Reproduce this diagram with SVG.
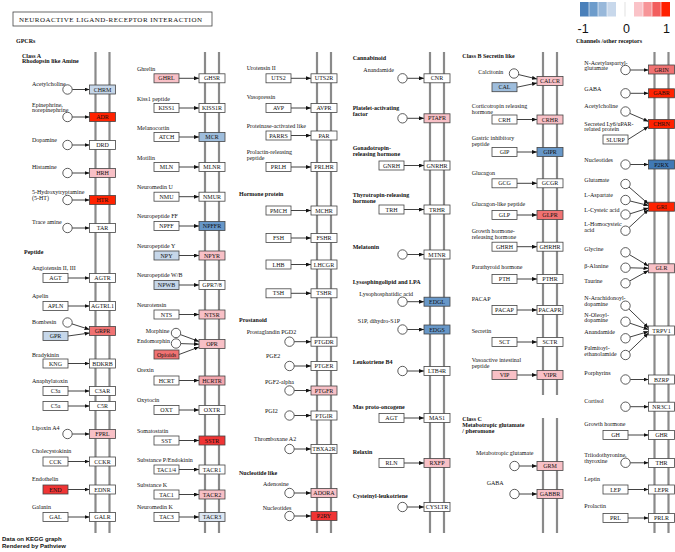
<svg xmlns="http://www.w3.org/2000/svg" width="675" height="552" viewBox="0 0 675 552">
<defs>
<marker id="ah" markerUnits="userSpaceOnUse" markerWidth="5" markerHeight="4" viewBox="0 0 5 4" refX="5" refY="2" orient="auto"><path d="M0,0 L5,2 L0,4 z" fill="#111"/></marker>
</defs>
<style>
text{font-family:"Liberation Serif","Times New Roman",serif;font-size:6px;fill:#111}
.b{font-weight:bold}
.bt{text-anchor:middle}
rect.n{stroke:#444;stroke-width:0.8;fill:#fff}
circle.c{fill:#fff;stroke:#333;stroke-width:0.8}
.m{stroke:#8a8a8a;stroke-width:2.2}
#connectors path{fill:none;stroke:#111;stroke-width:0.8;marker-end:url(#ah)}
.b0{fill:#DDE7F3 !important}.b1{fill:#C6D7EA !important}.b2{fill:#9EBDDC !important}.b3{fill:#6797C8 !important}.b4{fill:#4079B5 !important}
.p1{fill:#F8C0C6 !important}.p2{fill:#F4A6AD !important}.p3{fill:#F07272 !important}.p4{fill:#F03434 !important}.p5{fill:#FF2200 !important}
.sans{font-family:"Liberation Sans",Arial,sans-serif}
</style>
<rect width="675" height="552" fill="#fff"/>

<!-- title & legend -->
<g id="title"><rect class="n" x="13" y="12" width="199" height="14"/><text x="19" y="22.3" style="font-size:7px" textLength="183" lengthAdjust="spacing">NEUROACTIVE LIGAND-RECEPTOR INTERACTION</text></g>
<g id="legend">
<rect x="580" y="2" width="9" height="14.5" fill="#4A80BA"/>
<rect x="589" y="2" width="9" height="14.5" fill="#6D9CCB"/>
<rect x="598" y="2" width="9" height="14.5" fill="#98B8DA"/>
<rect x="607" y="2" width="9" height="14.5" fill="#C8D8EB"/>
<rect x="634" y="2" width="9" height="14.5" fill="#FAC3C8"/>
<rect x="643" y="2" width="9" height="14.5" fill="#F79598"/>
<rect x="652" y="2" width="9" height="14.5" fill="#F25E5E"/>
<rect x="661" y="2" width="9" height="14.5" fill="#FF2000"/>
<path d="M589,2V16.5M598,2V16.5M607,2V16.5M643,2V16.5M652,2V16.5M661,2V16.5" stroke="#fff" stroke-width="0.6"/>
<path d="M625,2V16.5" stroke="#ccc" stroke-width="0.6"/>
<text class="sans" x="577.5" y="33.3" style="font-size:12.5px">-1</text>
<text class="sans" x="623" y="33.3" style="font-size:12.5px">0</text>
<text class="sans" x="663" y="33.3" style="font-size:12.5px">1</text>
</g>
<text class="b" x="576" y="43">Channels /other receptors</text>
<text class="b" x="16" y="43">GPCRs</text>
<text class="b" x="22" y="57.5">Class A</text>
<text class="b" x="22" y="62.5">Rhodopsin like Amine</text>
<text class="b" x="24" y="253.5">Peptide</text>
<text class="b" x="239" y="195.5">Hormone protein</text>
<text class="b" x="239" y="321.5">Prostanoid</text>
<text class="b" x="239" y="474.5">Nucleotide like</text>
<text class="b" x="462.3" y="57.5">Class B Secretin like</text>
<text class="b" x="462.3" y="420.5">Class C</text>
<text class="b" x="462.3" y="426.5">Metabotropic glutamate</text>
<text class="b" x="462.3" y="432.5">/ pheromone</text>
<text class="b sans" x="2" y="541">Data on KEGG graph</text>
<text class="b sans" x="2" y="548.3">Rendered by Pathview</text>

<!-- membranes -->
<g id="membranes">
<path class="m" d="M95.5,52V533M109.5,52V533M205,52V533M219,52V533M317,52V533M331,52V533M430,52V533M444,52V533M543,52V395M557,52V395M543,418V533M557,418V533M654.5,52V533M668.5,52V533"/>
</g>

<!-- connectors -->
<g id="connectors">
<path d="M72.2,89.5H89.5"/><path d="M72.2,117H89.5"/><path d="M72.2,145H89.5"/><path d="M72.2,173H89.5"/><path d="M72.2,200H89.5"/><path d="M72.2,228H89.5"/>
<path d="M68,278H89.5"/><path d="M68,306H89.5"/><path d="M72,323.9L89.5,329.5"/><path d="M68,336L89.5,333"/><path d="M68,363.5H89.5"/><path d="M68,391H89.5"/><path d="M68,406H89.5"/><path d="M72.2,434H89.5"/><path d="M68,461.5H89.5"/><path d="M68,489.5H89.5"/><path d="M68,517H89.5"/>
<path d="M179,78.3H199"/><path d="M179,108H199"/><path d="M179,137H199"/><path d="M179,167H199"/><path d="M179,196.7H199"/><path d="M179,226H199"/><path d="M179,255.5H199"/><path d="M179,285H199"/><path d="M179,314.5H199"/>
<path d="M180.4,334.6L199,341.5"/><path d="M180.7,343.6L199,344.2"/><path d="M179,354.5L199,347"/>
<path d="M179,380.5H199"/><path d="M179,410H199"/><path d="M179,440.5H199"/><path d="M179,469.5H199"/><path d="M179,494.5H199"/><path d="M179,517H199"/>
<path d="M291,78.3H311"/><path d="M291,108H311"/><path d="M291,135.5H311"/><path d="M291,167H311"/><path d="M291,210.5H311"/><path d="M291,238H311"/><path d="M291,264.5H311"/><path d="M291,293.3H311"/>
<path d="M294.2,341.7H311"/><path d="M294.2,366H311"/><path d="M294.2,390.5H311"/><path d="M294.2,415.5H311"/><path d="M294.2,449H311"/><path d="M294.2,493H311"/><path d="M294.2,516H311"/>
<path d="M407.2,78.3H424"/><path d="M407.2,118.3H424"/><path d="M404,165.5H424"/><path d="M404,209.5H424"/><path d="M407.2,254.5H424"/><path d="M407.2,301.7H424"/><path d="M407.2,329.5H424"/><path d="M407.2,371H424"/><path d="M404,418H424"/><path d="M404,463H424"/><path d="M407.2,507H424"/>
<path d="M518.6,74.6L537,79"/><path d="M517,87.2L537,83"/>
<path d="M517,119.5H537"/><path d="M517,152H537"/><path d="M517,183.3H537"/><path d="M517,215H537"/><path d="M517,246.7H537"/><path d="M517,279H537"/><path d="M517,310H537"/><path d="M517,342H537"/><path d="M517,375H537"/>
<path d="M519.2,466H537"/><path d="M519.2,494H537"/>
<path d="M630.2,70H648.5"/><path d="M630.2,93.3H648.5"/><path d="M629.8,113.4L648.5,121.5"/><path d="M628,139.5L648.5,126.5"/><path d="M630.2,164.5H648.5"/>
<path d="M629,187L648.5,204"/><path d="M630.1,201L648.5,205.5"/><path d="M630.1,213.8L648.5,208"/><path d="M629,227.6L648.5,209.5"/>
<path d="M629.5,254.7L648.5,266"/><path d="M630.2,267.8L648.5,268.3"/><path d="M629.6,281L648.5,270.5"/>
<path d="M628.9,309L648.5,328"/><path d="M630,323.2L648.5,329.5"/><path d="M630,337L648.5,331.5"/><path d="M628.9,351.8L648.5,333"/>
<path d="M630.2,379.5H648.5"/><path d="M630.2,406.7H648.5"/><path d="M628,435H648.5"/><path d="M630.2,462.8H648.5"/><path d="M628,489.5H648.5"/><path d="M628,518H648.5"/>
</g>

<!-- column 1 receptors -->
<g id="CHRM"><rect class="n b1" x="89.5" y="85" width="26" height="9"/><text class="bt" x="102.5" y="91.6">CHRM</text></g>
<g id="ADR"><rect class="n p5" x="89.5" y="112.5" width="26" height="9"/><text class="bt" x="102.5" y="119.1">ADR</text></g>
<g id="DRD"><rect class="n" x="89.5" y="140.5" width="26" height="9"/><text class="bt" x="102.5" y="147.1">DRD</text></g>
<g id="HRH"><rect class="n p1" x="89.5" y="168.5" width="26" height="9"/><text class="bt" x="102.5" y="175.1">HRH</text></g>
<g id="HTR"><rect class="n p5" x="89.5" y="195.5" width="26" height="9"/><text class="bt" x="102.5" y="202.1">HTR</text></g>
<g id="TAR"><rect class="n" x="89.5" y="223.5" width="26" height="9"/><text class="bt" x="102.5" y="230.1">TAR</text></g>
<g id="AGTR"><rect class="n" x="89.5" y="273.5" width="26" height="9"/><text class="bt" x="102.5" y="280.1">AGTR</text></g>
<g id="AGTRL1"><rect class="n" x="89.5" y="301.5" width="26" height="9"/><text class="bt" x="102.5" y="308.1">AGTRL1</text></g>
<g id="GRPR"><rect class="n p3" x="89.5" y="326.5" width="26" height="9"/><text class="bt" x="102.5" y="333.1">GRPR</text></g>
<g id="BDKRB"><rect class="n" x="89.5" y="359" width="26" height="9"/><text class="bt" x="102.5" y="365.6">BDKRB</text></g>
<g id="C3AR"><rect class="n" x="89.5" y="386.5" width="26" height="9"/><text class="bt" x="102.5" y="393.1">C3AR</text></g>
<g id="C5R"><rect class="n" x="89.5" y="401.5" width="26" height="9"/><text class="bt" x="102.5" y="408.1">C5R</text></g>
<g id="FPRL"><rect class="n p1" x="89.5" y="429.5" width="26" height="9"/><text class="bt" x="102.5" y="436.1">FPRL</text></g>
<g id="CCKR"><rect class="n" x="89.5" y="457" width="26" height="9"/><text class="bt" x="102.5" y="463.6">CCKR</text></g>
<g id="EDNR"><rect class="n" x="89.5" y="485" width="26" height="9"/><text class="bt" x="102.5" y="491.6">EDNR</text></g>
<g id="GALR"><rect class="n" x="89.5" y="512.5" width="26" height="9"/><text class="bt" x="102.5" y="519.1">GALR</text></g>

<!-- column 1 ligands -->
<g id="Acetylcholine1"><text x="32" y="85.5">Acetylcholine</text><circle class="c" cx="67.5" cy="89.5" r="4.7"/></g>
<g id="Epinephrine"><text x="32" y="106.5">Epinephrine,</text><text x="32" y="112">norepinephrine</text><circle class="c" cx="67.5" cy="117" r="4.7"/></g>
<g id="Dopamine"><text x="32" y="141.5">Dopamine</text><circle class="c" cx="67.5" cy="145" r="4.7"/></g>
<g id="Histamine"><text x="32" y="168.5">Histamine</text><circle class="c" cx="67.5" cy="173" r="4.7"/></g>
<g id="HT5"><text x="32" y="194">5-Hydroxytryptamine</text><text x="32" y="200">(5-HT)</text><circle class="c" cx="67.5" cy="200" r="4.7"/></g>
<g id="Traceamine"><text x="32" y="224">Trace amine</text><circle class="c" cx="67.5" cy="228" r="4.7"/></g>
<g id="AGT1"><text x="32" y="269.5">Angiotensin II, III</text><rect class="n" x="43" y="273.5" width="25" height="9"/><text class="bt" x="55.5" y="280.1">AGT</text></g>
<g id="APLN"><text x="32" y="297.5">Apelin</text><rect class="n" x="43" y="301.5" width="25" height="9"/><text class="bt" x="55.5" y="308.1">APLN</text></g>
<g id="Bombesin"><text x="32" y="324">Bombesin</text><circle class="c" cx="67.5" cy="322.5" r="4.7"/></g>
<g id="GPR"><rect class="n b1" x="43" y="331.5" width="25" height="9"/><text class="bt" x="55.5" y="338.1">GPR</text></g>
<g id="KNG"><text x="32" y="356.5">Bradykinin</text><rect class="n" x="43" y="359" width="25" height="9"/><text class="bt" x="55.5" y="365.6">KNG</text></g>
<g id="C3a"><text x="32" y="382.5">Anaphylatoxin</text><rect class="n" x="43" y="386.5" width="25" height="9"/><text class="bt" x="55.5" y="393.1">C3a</text></g>
<g id="C5a"><rect class="n" x="43" y="401.5" width="25" height="9"/><text class="bt" x="55.5" y="408.1">C5a</text></g>
<g id="LipoxinA4"><text x="32" y="429.5">Lipoxin A4</text><circle class="c" cx="67.5" cy="434" r="4.7"/></g>
<g id="CCK"><text x="32" y="452.5">Cholecystokinin</text><rect class="n" x="43" y="457" width="25" height="9"/><text class="bt" x="55.5" y="463.6">CCK</text></g>
<g id="END"><text x="32" y="480.5">Endothelin</text><rect class="n p4" x="43" y="485" width="25" height="9"/><text class="bt" x="55.5" y="491.6">END</text></g>
<g id="GAL"><text x="32" y="508.5">Galanin</text><rect class="n" x="43" y="512.5" width="25" height="9"/><text class="bt" x="55.5" y="519.1">GAL</text></g>

<!-- column 2 -->
<g id="GHSR"><rect class="n" x="199" y="73.8" width="26" height="9"/><text class="bt" x="212" y="80.4">GHSR</text></g>
<g id="KISS1R"><rect class="n" x="199" y="103.5" width="26" height="9"/><text class="bt" x="212" y="110.1">KISS1R</text></g>
<g id="MCR"><rect class="n b2" x="199" y="132.5" width="26" height="9"/><text class="bt" x="212" y="139.1">MCR</text></g>
<g id="MLNR"><rect class="n" x="199" y="162.5" width="26" height="9"/><text class="bt" x="212" y="169.1">MLNR</text></g>
<g id="NMUR"><rect class="n" x="199" y="192.2" width="26" height="9"/><text class="bt" x="212" y="198.8">NMUR</text></g>
<g id="NPFFR"><rect class="n b3" x="199" y="221.5" width="26" height="9"/><text class="bt" x="212" y="228.1">NPFFR</text></g>
<g id="NPYR"><rect class="n p1" x="199" y="251" width="26" height="9"/><text class="bt" x="212" y="257.6">NPYR</text></g>
<g id="GPR78"><rect class="n" x="199" y="280.5" width="26" height="9"/><text class="bt" x="212" y="287.1">GPR7/8</text></g>
<g id="NTSR"><rect class="n p1" x="199" y="310" width="26" height="9"/><text class="bt" x="212" y="316.6">NTSR</text></g>
<g id="OPR"><rect class="n p1" x="199" y="339.5" width="26" height="9"/><text class="bt" x="212" y="346.1">OPR</text></g>
<g id="HCRTR"><rect class="n p2" x="199" y="376" width="26" height="9"/><text class="bt" x="212" y="382.6">HCRTR</text></g>
<g id="OXTR"><rect class="n" x="199" y="405.5" width="26" height="9"/><text class="bt" x="212" y="412.1">OXTR</text></g>
<g id="SSTR"><rect class="n p4" x="199" y="436" width="26" height="9"/><text class="bt" x="212" y="442.6">SSTR</text></g>
<g id="TACR1"><rect class="n" x="199" y="465" width="26" height="9"/><text class="bt" x="212" y="471.6">TACR1</text></g>
<g id="TACR2"><rect class="n p1" x="199" y="490" width="26" height="9"/><text class="bt" x="212" y="496.6">TACR2</text></g>
<g id="TACR3"><rect class="n b0" x="199" y="512.5" width="26" height="9"/><text class="bt" x="212" y="519.1">TACR3</text></g>

<g id="GHRL"><text x="137" y="71">Ghrelin</text><rect class="n p1" x="154" y="73.8" width="25" height="9"/><text class="bt" x="166.5" y="80.4">GHRL</text></g>
<g id="KISS1"><text x="137" y="100.5">Kiss1 peptide</text><rect class="n" x="154" y="103.5" width="25" height="9"/><text class="bt" x="166.5" y="110.1">KISS1</text></g>
<g id="ATCH"><text x="137" y="129.5">Melanocortin</text><rect class="n" x="154" y="132.5" width="25" height="9"/><text class="bt" x="166.5" y="139.1">ATCH</text></g>
<g id="MLN"><text x="137" y="159.5">Motilin</text><rect class="n" x="154" y="162.5" width="25" height="9"/><text class="bt" x="166.5" y="169.1">MLN</text></g>
<g id="NMU"><text x="137" y="189">Neuromedin U</text><rect class="n" x="154" y="192.2" width="25" height="9"/><text class="bt" x="166.5" y="198.8">NMU</text></g>
<g id="NPFF"><text x="137" y="218">Neuropeptide FF</text><rect class="n" x="154" y="221.5" width="25" height="9"/><text class="bt" x="166.5" y="228.1">NPFF</text></g>
<g id="NPY"><text x="137" y="247.5">Neuropeptide Y</text><rect class="n b1" x="154" y="251" width="25" height="9"/><text class="bt" x="166.5" y="257.6">NPY</text></g>
<g id="NPWB"><text x="137" y="277">Neuropeptide W/B</text><rect class="n b1" x="154" y="280.5" width="25" height="9"/><text class="bt" x="166.5" y="287.1">NPWB</text></g>
<g id="NTS"><text x="137" y="306.5">Neurotensin</text><rect class="n" x="154" y="310" width="25" height="9"/><text class="bt" x="166.5" y="316.6">NTS</text></g>
<g id="Morphine"><text x="145.7" y="332.5">Morphine</text><circle class="c" cx="176" cy="333" r="4.7"/></g>
<g id="Endomorphin"><text x="137" y="342.5">Endomorphin</text><circle class="c" cx="176" cy="343.5" r="4.7"/></g>
<g id="Opioids"><rect class="n p3" x="154" y="350" width="25" height="9"/><text class="bt" x="166.5" y="356.6">Opioids</text></g>
<g id="HCRT"><text x="137" y="371.5">Orexin</text><rect class="n" x="154" y="376" width="25" height="9"/><text class="bt" x="166.5" y="382.6">HCRT</text></g>
<g id="OXT"><text x="137" y="401.5">Oxytocin</text><rect class="n" x="154" y="405.5" width="25" height="9"/><text class="bt" x="166.5" y="412.1">OXT</text></g>
<g id="SST"><text x="137" y="432.5">Somatostatin</text><rect class="n" x="154" y="436" width="25" height="9"/><text class="bt" x="166.5" y="442.6">SST</text></g>
<g id="TAC14"><text x="137" y="461.5">Substance P/Endokinin</text><rect class="n" x="154" y="465" width="25" height="9"/><text class="bt" x="166.5" y="471.6">TAC1/4</text></g>
<g id="TAC1"><text x="137" y="486.5">Substance K</text><rect class="n" x="154" y="490" width="25" height="9"/><text class="bt" x="166.5" y="496.6">TAC1</text></g>
<g id="TAC3"><text x="137" y="508.5">Neuromedin K</text><rect class="n" x="154" y="512.5" width="25" height="9"/><text class="bt" x="166.5" y="519.1">TAC3</text></g>

<!-- column 3 -->
<g id="UTS2R"><rect class="n" x="311" y="73.8" width="26" height="9"/><text class="bt" x="324" y="80.4">UTS2R</text></g>
<g id="AVPR"><rect class="n" x="311" y="103.5" width="26" height="9"/><text class="bt" x="324" y="110.1">AVPR</text></g>
<g id="PAR"><rect class="n" x="311" y="131" width="26" height="9"/><text class="bt" x="324" y="137.6">PAR</text></g>
<g id="PRLHR"><rect class="n" x="311" y="162.5" width="26" height="9"/><text class="bt" x="324" y="169.1">PRLHR</text></g>
<g id="MCHR"><rect class="n" x="311" y="206" width="26" height="9"/><text class="bt" x="324" y="212.6">MCHR</text></g>
<g id="FSHR"><rect class="n" x="311" y="233.5" width="26" height="9"/><text class="bt" x="324" y="240.1">FSHR</text></g>
<g id="LHCGR"><rect class="n" x="311" y="260" width="26" height="9"/><text class="bt" x="324" y="266.6">LHCGR</text></g>
<g id="TSHR"><rect class="n" x="311" y="288.8" width="26" height="9"/><text class="bt" x="324" y="295.4">TSHR</text></g>
<g id="PTGDR"><rect class="n" x="311" y="337.2" width="26" height="9"/><text class="bt" x="324" y="343.8">PTGDR</text></g>
<g id="PTGER"><rect class="n" x="311" y="361.5" width="26" height="9"/><text class="bt" x="324" y="368.1">PTGER</text></g>
<g id="PTGFR"><rect class="n p1" x="311" y="386" width="26" height="9"/><text class="bt" x="324" y="392.6">PTGFR</text></g>
<g id="PTGIR"><rect class="n" x="311" y="411" width="26" height="9"/><text class="bt" x="324" y="417.6">PTGIR</text></g>
<g id="TBXA2R"><rect class="n" x="311" y="444.5" width="26" height="9"/><text class="bt" x="324" y="451.1">TBXA2R</text></g>
<g id="ADORA"><rect class="n p1" x="311" y="488.5" width="26" height="9"/><text class="bt" x="324" y="495.1">ADORA</text></g>
<g id="P2RY"><rect class="n p4" x="311" y="511.5" width="26" height="9"/><text class="bt" x="324" y="518.1">P2RY</text></g>

<g id="UTS2"><text x="246.7" y="70">Urotensin II</text><rect class="n" x="266" y="73.8" width="25" height="9"/><text class="bt" x="278.5" y="80.4">UTS2</text></g>
<g id="AVP"><text x="246.7" y="99">Vasopressin</text><rect class="n" x="266" y="103.5" width="25" height="9"/><text class="bt" x="278.5" y="110.1">AVP</text></g>
<g id="PARRS"><text x="246.7" y="128">Proteinase-activated like</text><rect class="n" x="266" y="131" width="25" height="9"/><text class="bt" x="278.5" y="137.6">PARRS</text></g>
<g id="PRLH"><text x="246.7" y="154">Prolactin-releasing</text><text x="246.7" y="160">peptide</text><rect class="n" x="266" y="162.5" width="25" height="9"/><text class="bt" x="278.5" y="169.1">PRLH</text></g>
<g id="PMCH"><rect class="n" x="266" y="206" width="25" height="9"/><text class="bt" x="278.5" y="212.6">PMCH</text></g>
<g id="FSH"><rect class="n" x="266" y="233.5" width="25" height="9"/><text class="bt" x="278.5" y="240.1">FSH</text></g>
<g id="LHB"><rect class="n" x="266" y="260" width="25" height="9"/><text class="bt" x="278.5" y="266.6">LHB</text></g>
<g id="TSH"><rect class="n" x="266" y="288.8" width="25" height="9"/><text class="bt" x="278.5" y="295.4">TSH</text></g>
<g id="PGD2"><text x="246.7" y="333.5">Prostaglandin PGD2</text><circle class="c" cx="289.5" cy="341.7" r="4.7"/></g>
<g id="PGE2"><text x="266" y="357.5">PGE2</text><circle class="c" cx="289.5" cy="366" r="4.7"/></g>
<g id="PGF2a"><text x="265" y="383.5">PGF2-alpha</text><circle class="c" cx="289.5" cy="390.5" r="4.7"/></g>
<g id="PGI2"><text x="265" y="412.5">PGI2</text><circle class="c" cx="289.5" cy="415.5" r="4.7"/></g>
<g id="TXA2"><text x="254" y="440.5">Thromboxane A2</text><circle class="c" cx="289.5" cy="449" r="4.7"/></g>
<g id="Adenosine"><text x="263" y="485.5">Adenosine</text><circle class="c" cx="289.5" cy="493" r="4.7"/></g>
<g id="Nucleotides3"><text x="262.7" y="509.5">Nucleotides</text><circle class="c" cx="289.5" cy="516" r="4.7"/></g>

<!-- column 4 -->
<g id="CNR"><rect class="n" x="424" y="73.8" width="26" height="9"/><text class="bt" x="437" y="80.4">CNR</text></g>
<g id="PTAFR"><rect class="n p1" x="424" y="113.8" width="26" height="9"/><text class="bt" x="437" y="120.4">PTAFR</text></g>
<g id="GNRHR"><rect class="n" x="424" y="161" width="26" height="9"/><text class="bt" x="437" y="167.6">GNRHR</text></g>
<g id="TRHR"><rect class="n" x="424" y="205" width="26" height="9"/><text class="bt" x="437" y="211.6">TRHR</text></g>
<g id="MTNR"><rect class="n" x="424" y="250" width="26" height="9"/><text class="bt" x="437" y="256.6">MTNR</text></g>
<g id="EDGL"><rect class="n b3" x="424" y="297.2" width="26" height="9"/><text class="bt" x="437" y="303.8">EDGL</text></g>
<g id="EDGS"><rect class="n b3" x="424" y="325" width="26" height="9"/><text class="bt" x="437" y="331.6">EDGS</text></g>
<g id="LTB4R"><rect class="n" x="424" y="366.5" width="26" height="9"/><text class="bt" x="437" y="373.1">LTB4R</text></g>
<g id="MAS1"><rect class="n" x="424" y="413.5" width="26" height="9"/><text class="bt" x="437" y="420.1">MAS1</text></g>
<g id="RXFP"><rect class="n p1" x="424" y="458.5" width="26" height="9"/><text class="bt" x="437" y="465.1">RXFP</text></g>
<g id="CYSLTR"><rect class="n" x="424" y="502.5" width="26" height="9"/><text class="bt" x="437" y="509.1">CYSLTR</text></g>

<g id="Anandamide4"><text class="b" x="352.7" y="59.5">Cannabinoid</text><text x="363.3" y="71.5">Anandamide</text><circle class="c" cx="402.5" cy="78.3" r="4.7"/></g>
<g id="PAF"><text class="b" x="352.7" y="109.5">Platelet-activating</text><text class="b" x="352.7" y="115.5">factor</text><circle class="c" cx="402.5" cy="118.3" r="4.7"/></g>
<g id="GNRH"><text class="b" x="352.7" y="149.5">Gonadotropin-</text><text class="b" x="352.7" y="155.5">releasing hormone</text><rect class="n" x="379" y="161" width="25" height="9"/><text class="bt" x="391.5" y="167.6">GNRH</text></g>
<g id="TRH"><text class="b" x="352.7" y="197">Thyrotropin-releasing</text><text class="b" x="352.7" y="202.5">hormone</text><rect class="n" x="379" y="205" width="25" height="9"/><text class="bt" x="391.5" y="211.6">TRH</text></g>
<g id="Melatonin"><text class="b" x="352.7" y="248.5">Melatonin</text><circle class="c" cx="402.5" cy="254.5" r="4.7"/></g>
<g id="LPA"><text class="b" x="352.7" y="283.5">Lysosphingolipid and LPA</text><text x="359.3" y="295.5">Lysophosphatidic acid</text><circle class="c" cx="402.5" cy="301.7" r="4.7"/></g>
<g id="S1P"><text x="357.7" y="323">S1P, dihydro-S1P</text><circle class="c" cx="402.5" cy="329.5" r="4.7"/></g>
<g id="LTB4"><text class="b" x="352.7" y="364">Leukotriene B4</text><circle class="c" cx="402.5" cy="371" r="4.7"/></g>
<g id="AGT4"><text class="b" x="352.7" y="409">Mas proto-oncogene</text><rect class="n" x="379" y="413.5" width="25" height="9"/><text class="bt" x="391.5" y="420.1">AGT</text></g>
<g id="RLN"><text class="b" x="352.7" y="453.5">Relaxin</text><rect class="n" x="379" y="458.5" width="25" height="9"/><text class="bt" x="391.5" y="465.1">RLN</text></g>
<g id="CysLT"><text class="b" x="352.7" y="498">Cysteinyl-leukotriene</text><circle class="c" cx="402.5" cy="507" r="4.7"/></g>

<!-- column 5 -->
<g id="CALCR"><rect class="n p1" x="537" y="76.5" width="26" height="9"/><text class="bt" x="550" y="83.1">CALCR</text></g>
<g id="CRHR"><rect class="n p1" x="537" y="115" width="26" height="9"/><text class="bt" x="550" y="121.6">CRHR</text></g>
<g id="GIPR"><rect class="n b3" x="537" y="147.5" width="26" height="9"/><text class="bt" x="550" y="154.1">GIPR</text></g>
<g id="GCGR"><rect class="n" x="537" y="178.8" width="26" height="9"/><text class="bt" x="550" y="185.4">GCGR</text></g>
<g id="GLPR"><rect class="n p3" x="537" y="210.5" width="26" height="9"/><text class="bt" x="550" y="217.1">GLPR</text></g>
<g id="GHRHR"><rect class="n" x="537" y="242.2" width="26" height="9"/><text class="bt" x="550" y="248.8">GHRHR</text></g>
<g id="PTHR"><rect class="n" x="537" y="274.5" width="26" height="9"/><text class="bt" x="550" y="281.1">PTHR</text></g>
<g id="PACAPR"><rect class="n" x="537" y="305.5" width="26" height="9"/><text class="bt" x="550" y="312.1">PACAPR</text></g>
<g id="SCTR"><rect class="n" x="537" y="337.5" width="26" height="9"/><text class="bt" x="550" y="344.1">SCTR</text></g>
<g id="VIPR"><rect class="n p1" x="537" y="370.5" width="26" height="9"/><text class="bt" x="550" y="377.1">VIPR</text></g>
<g id="GRM"><rect class="n p1" x="537" y="461.5" width="26" height="9"/><text class="bt" x="550" y="468.1">GRM</text></g>
<g id="GABBR"><rect class="n p1" x="537" y="489.5" width="26" height="9"/><text class="bt" x="550" y="496.1">GABBR</text></g>

<g id="Calcitonin"><text x="478.3" y="73.5">Calcitonin</text><circle class="c" cx="514" cy="73.5" r="4.7"/></g>
<g id="CAL"><rect class="n b2" x="492" y="82.7" width="25" height="9"/><text class="bt" x="504.5" y="89.3">CAL</text></g>
<g id="CRH"><text x="471.7" y="108">Corticotropin releasing</text><text x="471.7" y="113.5">hormone</text><rect class="n" x="492" y="115" width="25" height="9"/><text class="bt" x="504.5" y="121.6">CRH</text></g>
<g id="GIP"><text x="471.7" y="139.5">Gastric inhibitory</text><text x="471.7" y="145.5">peptide</text><rect class="n" x="492" y="147.5" width="25" height="9"/><text class="bt" x="504.5" y="154.1">GIP</text></g>
<g id="GCG"><text x="471.7" y="174.5">Glucagon</text><rect class="n" x="492" y="178.8" width="25" height="9"/><text class="bt" x="504.5" y="185.4">GCG</text></g>
<g id="GLP"><text x="471.7" y="205.5">Glucagon-like peptide</text><rect class="n" x="492" y="210.5" width="25" height="9"/><text class="bt" x="504.5" y="217.1">GLP</text></g>
<g id="GHRH"><text x="471.7" y="232.5">Growth hormone-</text><text x="471.7" y="239">releasing hormone</text><rect class="n" x="492" y="242.2" width="25" height="9"/><text class="bt" x="504.5" y="248.8">GHRH</text></g>
<g id="PTH"><text x="471.7" y="268.5">Parathyroid hormone</text><rect class="n" x="492" y="274.5" width="25" height="9"/><text class="bt" x="504.5" y="281.1">PTH</text></g>
<g id="PACAP"><text x="471.7" y="300.5">PACAP</text><rect class="n" x="492" y="305.5" width="25" height="9"/><text class="bt" x="504.5" y="312.1">PACAP</text></g>
<g id="SCT"><text x="471.7" y="333">Secretin</text><rect class="n" x="492" y="337.5" width="25" height="9"/><text class="bt" x="504.5" y="344.1">SCT</text></g>
<g id="VIP"><text x="471.7" y="361.5">Vasoactive intestinal</text><text x="471.7" y="367.5">peptide</text><rect class="n p1" x="492" y="370.5" width="25" height="9"/><text class="bt" x="504.5" y="377.1">VIP</text></g>
<g id="MGlu"><text x="476" y="454.5">Metabotropic glutamate</text><circle class="c" cx="514.5" cy="466" r="4.7"/></g>
<g id="GABA5"><text x="486.7" y="484.5">GABA</text><circle class="c" cx="514.5" cy="494" r="4.7"/></g>

<!-- column 6 -->
<g id="GRIN"><rect class="n p3" x="648.5" y="65" width="26" height="9"/><text class="bt" x="661.5" y="71.6">GRIN</text></g>
<g id="GABR"><rect class="n p5" x="648.5" y="88.8" width="26" height="9"/><text class="bt" x="661.5" y="95.4">GABR</text></g>
<g id="CHRN"><rect class="n p5" x="648.5" y="119.5" width="26" height="9"/><text class="bt" x="661.5" y="126.1">CHRN</text></g>
<g id="P2RX"><rect class="n b4" x="648.5" y="160" width="26" height="9"/><text class="bt" x="661.5" y="166.6">P2RX</text></g>
<g id="GRI"><rect class="n p5" x="648.5" y="202.2" width="26" height="9"/><text class="bt" x="661.5" y="208.8">GRI</text></g>
<g id="GLR"><rect class="n p1" x="648.5" y="263.8" width="26" height="9"/><text class="bt" x="661.5" y="270.4">GLR</text></g>
<g id="TRPV1"><rect class="n" x="648.5" y="326" width="26" height="9"/><text class="bt" x="661.5" y="332.6">TRPV1</text></g>
<g id="BZRP"><rect class="n" x="648.5" y="375" width="26" height="9"/><text class="bt" x="661.5" y="381.6">BZRP</text></g>
<g id="NR3C1"><rect class="n" x="648.5" y="402.2" width="26" height="9"/><text class="bt" x="661.5" y="408.8">NR3C1</text></g>
<g id="GHR"><rect class="n" x="648.5" y="430.5" width="26" height="9"/><text class="bt" x="661.5" y="437.1">GHR</text></g>
<g id="THR"><rect class="n" x="648.5" y="458.5" width="26" height="9"/><text class="bt" x="661.5" y="465.1">THR</text></g>
<g id="LEPR"><rect class="n" x="648.5" y="485" width="26" height="9"/><text class="bt" x="661.5" y="491.6">LEPR</text></g>
<g id="PRLR"><rect class="n" x="648.5" y="513.5" width="26" height="9"/><text class="bt" x="661.5" y="520.1">PRLR</text></g>

<g id="NAAG"><text x="584.3" y="64.5">N-Acetylaspartyl-</text><text x="584.3" y="69.8">glutamate</text><circle class="c" cx="625.5" cy="70" r="4.7"/></g>
<g id="GABA6"><text x="584.3" y="90.8">GABA</text><circle class="c" cx="625.5" cy="93.3" r="4.7"/></g>
<g id="Acetylcholine6"><text x="584.3" y="108">Acetylcholine</text><circle class="c" cx="625.5" cy="111.5" r="4.7"/></g>
<g id="SLURP"><text x="584.3" y="125.8">Secreted Ly6/uPAR-</text><text x="584.3" y="130.8">related protein</text><rect class="n" x="603" y="135" width="25" height="9"/><text class="bt" x="615.5" y="141.6">SLURP</text></g>
<g id="Nucleotides6"><text x="584.3" y="162">Nucleotides</text><circle class="c" cx="625.5" cy="164.5" r="4.7"/></g>
<g id="Glutamate"><text x="584.3" y="182">Glutamate</text><circle class="c" cx="625.5" cy="184" r="4.7"/></g>
<g id="LAsp"><text x="584.3" y="197">L-Aspartate</text><circle class="c" cx="625.5" cy="200" r="4.7"/></g>
<g id="LCys"><text x="584.3" y="211.5">L-Cysteic acid</text><circle class="c" cx="625.5" cy="214.5" r="4.7"/></g>
<g id="LHcy"><text x="584.3" y="225.5">L-Homocysteic</text><text x="584.3" y="231.5">acid</text><circle class="c" cx="625.5" cy="230.7" r="4.7"/></g>
<g id="Glycine"><text x="584.3" y="250.8">Glycine</text><circle class="c" cx="625.5" cy="252.3" r="4.7"/></g>
<g id="bAla"><text x="584.3" y="267.5">β-Alanine</text><circle class="c" cx="625.5" cy="267.7" r="4.7"/></g>
<g id="Taurine"><text x="584.3" y="283">Taurine</text><circle class="c" cx="625.5" cy="283.3" r="4.7"/></g>
<g id="NADA"><text x="584.3" y="299.8">N-Arachidonoyl-</text><text x="584.3" y="305.5">dopamine</text><circle class="c" cx="625.5" cy="305.7" r="4.7"/></g>
<g id="OLDA"><text x="584.3" y="316.5">N-Oleoyl-</text><text x="584.3" y="322">dopamine</text><circle class="c" cx="625.5" cy="321.7" r="4.7"/></g>
<g id="Anandamide6"><text x="584.3" y="333.8">Anandamide</text><circle class="c" cx="625.5" cy="338.3" r="4.7"/></g>
<g id="PEA"><text x="584.3" y="349.8">Palmitoyl-</text><text x="584.3" y="355.8">ethanolamide</text><circle class="c" cx="625.5" cy="355" r="4.7"/></g>
<g id="Porphyrins"><text x="584.3" y="374.8">Porphyrins</text><circle class="c" cx="625.5" cy="379.5" r="4.7"/></g>
<g id="Cortisol"><text x="584.3" y="403">Cortisol</text><circle class="c" cx="625.5" cy="406.7" r="4.7"/></g>
<g id="GH"><text x="584.3" y="425.8">Growth hormone</text><rect class="n" x="603" y="430.5" width="25" height="9"/><text class="bt" x="615.5" y="437.1">GH</text></g>
<g id="T3"><text x="584.3" y="457">Triiodothyronine,</text><text x="584.3" y="463">thyroxine</text><circle class="c" cx="625.5" cy="462.8" r="4.7"/></g>
<g id="LEP"><text x="584.3" y="480.5">Leptin</text><rect class="n" x="603" y="485" width="25" height="9"/><text class="bt" x="615.5" y="491.6">LEP</text></g>
<g id="PRL"><text x="584.3" y="508">Prolactin</text><rect class="n" x="603" y="513.5" width="25" height="9"/><text class="bt" x="615.5" y="520.1">PRL</text></g>
</svg>
